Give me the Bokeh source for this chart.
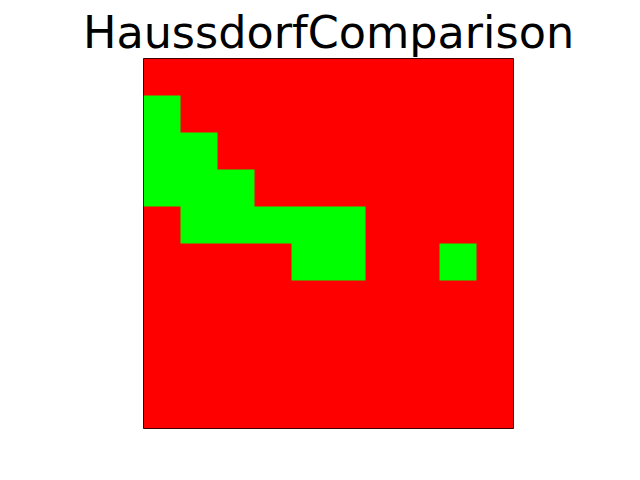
import numpy as np
from bokeh.plotting import figure
from bokeh.models import LinearColorMapper, Range1d
from bokeh.embed import file_html
from bokeh.resources import INLINE

title_text = "HaussdorfComparison"
# 1 = match (green), 0 = mismatch (red); rows listed from top to bottom
grid = [
    [0, 0, 0, 0, 0, 0, 0, 0, 0, 0],
    [1, 0, 0, 0, 0, 0, 0, 0, 0, 0],
    [1, 1, 0, 0, 0, 0, 0, 0, 0, 0],
    [1, 1, 1, 0, 0, 0, 0, 0, 0, 0],
    [0, 1, 1, 1, 1, 1, 0, 0, 0, 0],
    [0, 0, 0, 0, 1, 1, 0, 0, 1, 0],
    [0, 0, 0, 0, 0, 0, 0, 0, 0, 0],
    [0, 0, 0, 0, 0, 0, 0, 0, 0, 0],
    [0, 0, 0, 0, 0, 0, 0, 0, 0, 0],
    [0, 0, 0, 0, 0, 0, 0, 0, 0, 0],
]
palette = ["#ff0000", "#00ff00"]

arr = np.array(grid, dtype=float)[::-1]
nrows, ncols = arr.shape

p = figure(width=640, height=480, output_backend="svg", toolbar_location=None,
           x_range=Range1d(0, ncols), y_range=Range1d(0, nrows),
           min_border_left=143, min_border_right=127,
           min_border_top=58, min_border_bottom=52,
           title=title_text)
p.title.align = "center"
p.title.text_font = "DejaVu Sans"
p.title.text_font_size = "44.5px"
p.title.text_font_style = "normal"
p.title.text_color = "black"
p.title.standoff = 2
p.title.offset = 0
p.axis.visible = False
p.grid.visible = False
p.outline_line_color = "black"
p.outline_line_width = 1
p.background_fill_color = "white"
p.border_fill_color = "white"

mapper = LinearColorMapper(palette=palette, low=0, high=1)
p.image(image=[arr], x=0, y=0, dw=ncols, dh=nrows, color_mapper=mapper)

open("out.html", "w").write(file_html(p, INLINE))
